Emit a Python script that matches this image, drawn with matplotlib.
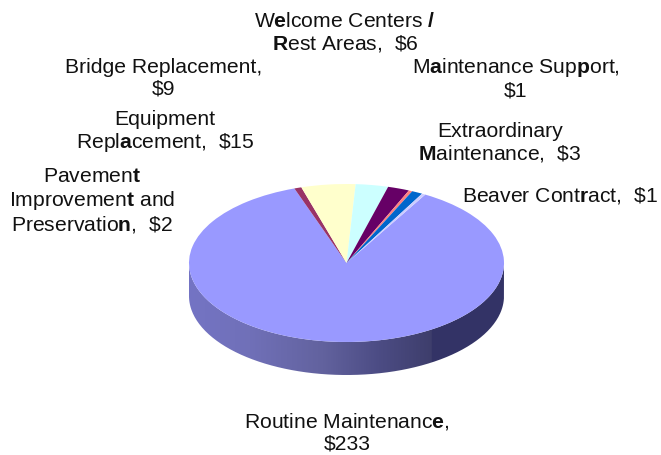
import numpy as np
import matplotlib
matplotlib.use('Agg')
from matplotlib import pyplot as plt
from matplotlib.colors import LinearSegmentedColormap
from matplotlib.patches import PathPatch
from matplotlib.path import Path

plt.rcParams['font.family'] = 'Liberation Sans'
plt.rcParams['mathtext.fontset'] = 'custom'
plt.rcParams['mathtext.rm'] = 'Liberation Sans'
plt.rcParams['mathtext.bf'] = 'Liberation Sans:bold'

# spending by category, clockwise from the big slice
values = [233, 2, 15, 9, 6, 1, 3, 1]
colors = ['#9999FF', '#993366', '#FFFFCC', '#CCFFFF',
          '#660066', '#FF8080', '#0066CC', '#CCCCFF']

labels = ['Routine Maintenanc$\\mathbf{e}$,\n\\$233',
          'Pavemen$\\mathbf{t}$\nImprovemen$\\mathbf{t}$ and\nPreservatio$\\mathbf{n}$,  \\$2',
          'Equipment\nRepl$\\mathbf{a}$cement,  \\$15',
          'Bridge Replacement,\n\\$9',
          'W$\\mathbf{e}$lcome Centers $\\mathbf{/}$\n$\\mathbf{R}$est Areas,  \\$6',
          'M$\\mathbf{a}$intenance Sup$\\mathbf{p}$ort,\n\\$1',
          'Extraordinary\n$\\mathbf{M}$aintenance,  \\$3',
          'Beaver Cont$\\mathbf{r}$act,  \\$1']
label_x = [347, 92, 165, 164, 345, 516, 500, 560]
label_y = [432, 201, 132, 78, 33, 78, 143, 196]

W, H = 661, 455
cx, cy, rx, ry, depth = 346.5, 263, 157.5, 79, 33

fig = plt.figure(figsize=(W / 100, H / 100), dpi=100)
ax = fig.add_axes([0, 0, 1, 1])

ax.pie(values, colors=colors, startangle=60, counterclock=False, radius=1,
       wedgeprops={'linewidth': 0, 'zorder': 3})
ax.set_aspect('auto')

# side wall of the disc, gradient clipped to the rim shape
t = np.linspace(np.pi, 2 * np.pi, 200)
d = depth / ry
rim = np.concatenate([np.c_[np.cos(t), np.sin(t)],
                      np.c_[np.cos(t[::-1]), np.sin(t[::-1]) - d],
                      [[-1, 0]]])
rim_patch = PathPatch(Path(rim), fc='none', ec='none', transform=ax.transData)
ax.add_patch(rim_patch)

split = (433 - cx) / rx
cmap = LinearSegmentedColormap.from_list('side', [
    (0.0, '#7474C4'), (0.25, '#7070B8'), (0.55, '#62629E'),
    (0.78, '#4C4C84'), (0.995, '#3E3E6C'), (1.0, '#333366')])
grad = np.linspace(0, 1, 512).reshape(1, -1)
im = ax.imshow(grad, extent=[-1, split, -1 - d, 0], cmap=cmap, aspect='auto', zorder=1)
im.set_clip_path(rim_patch)
im2 = ax.imshow([[0]], extent=[split, 1, -1 - d, 0], cmap=LinearSegmentedColormap.from_list('r', ['#333366', '#333366']),
                aspect='auto', zorder=1)
im2.set_clip_path(rim_patch)

ax.set_xlim(-cx / rx, (W - cx) / rx)
ax.set_ylim((cy - H) / ry, cy / ry)
ax.axis('off')

for lab, x, y in zip(labels, label_x, label_y):
    fig.text(x / W, 1 - y / H, lab, ha='center', va='center', ma='center',
             fontsize=15.2, color='#111111', linespacing=1.17)

fig.savefig('out.png', dpi=100)
